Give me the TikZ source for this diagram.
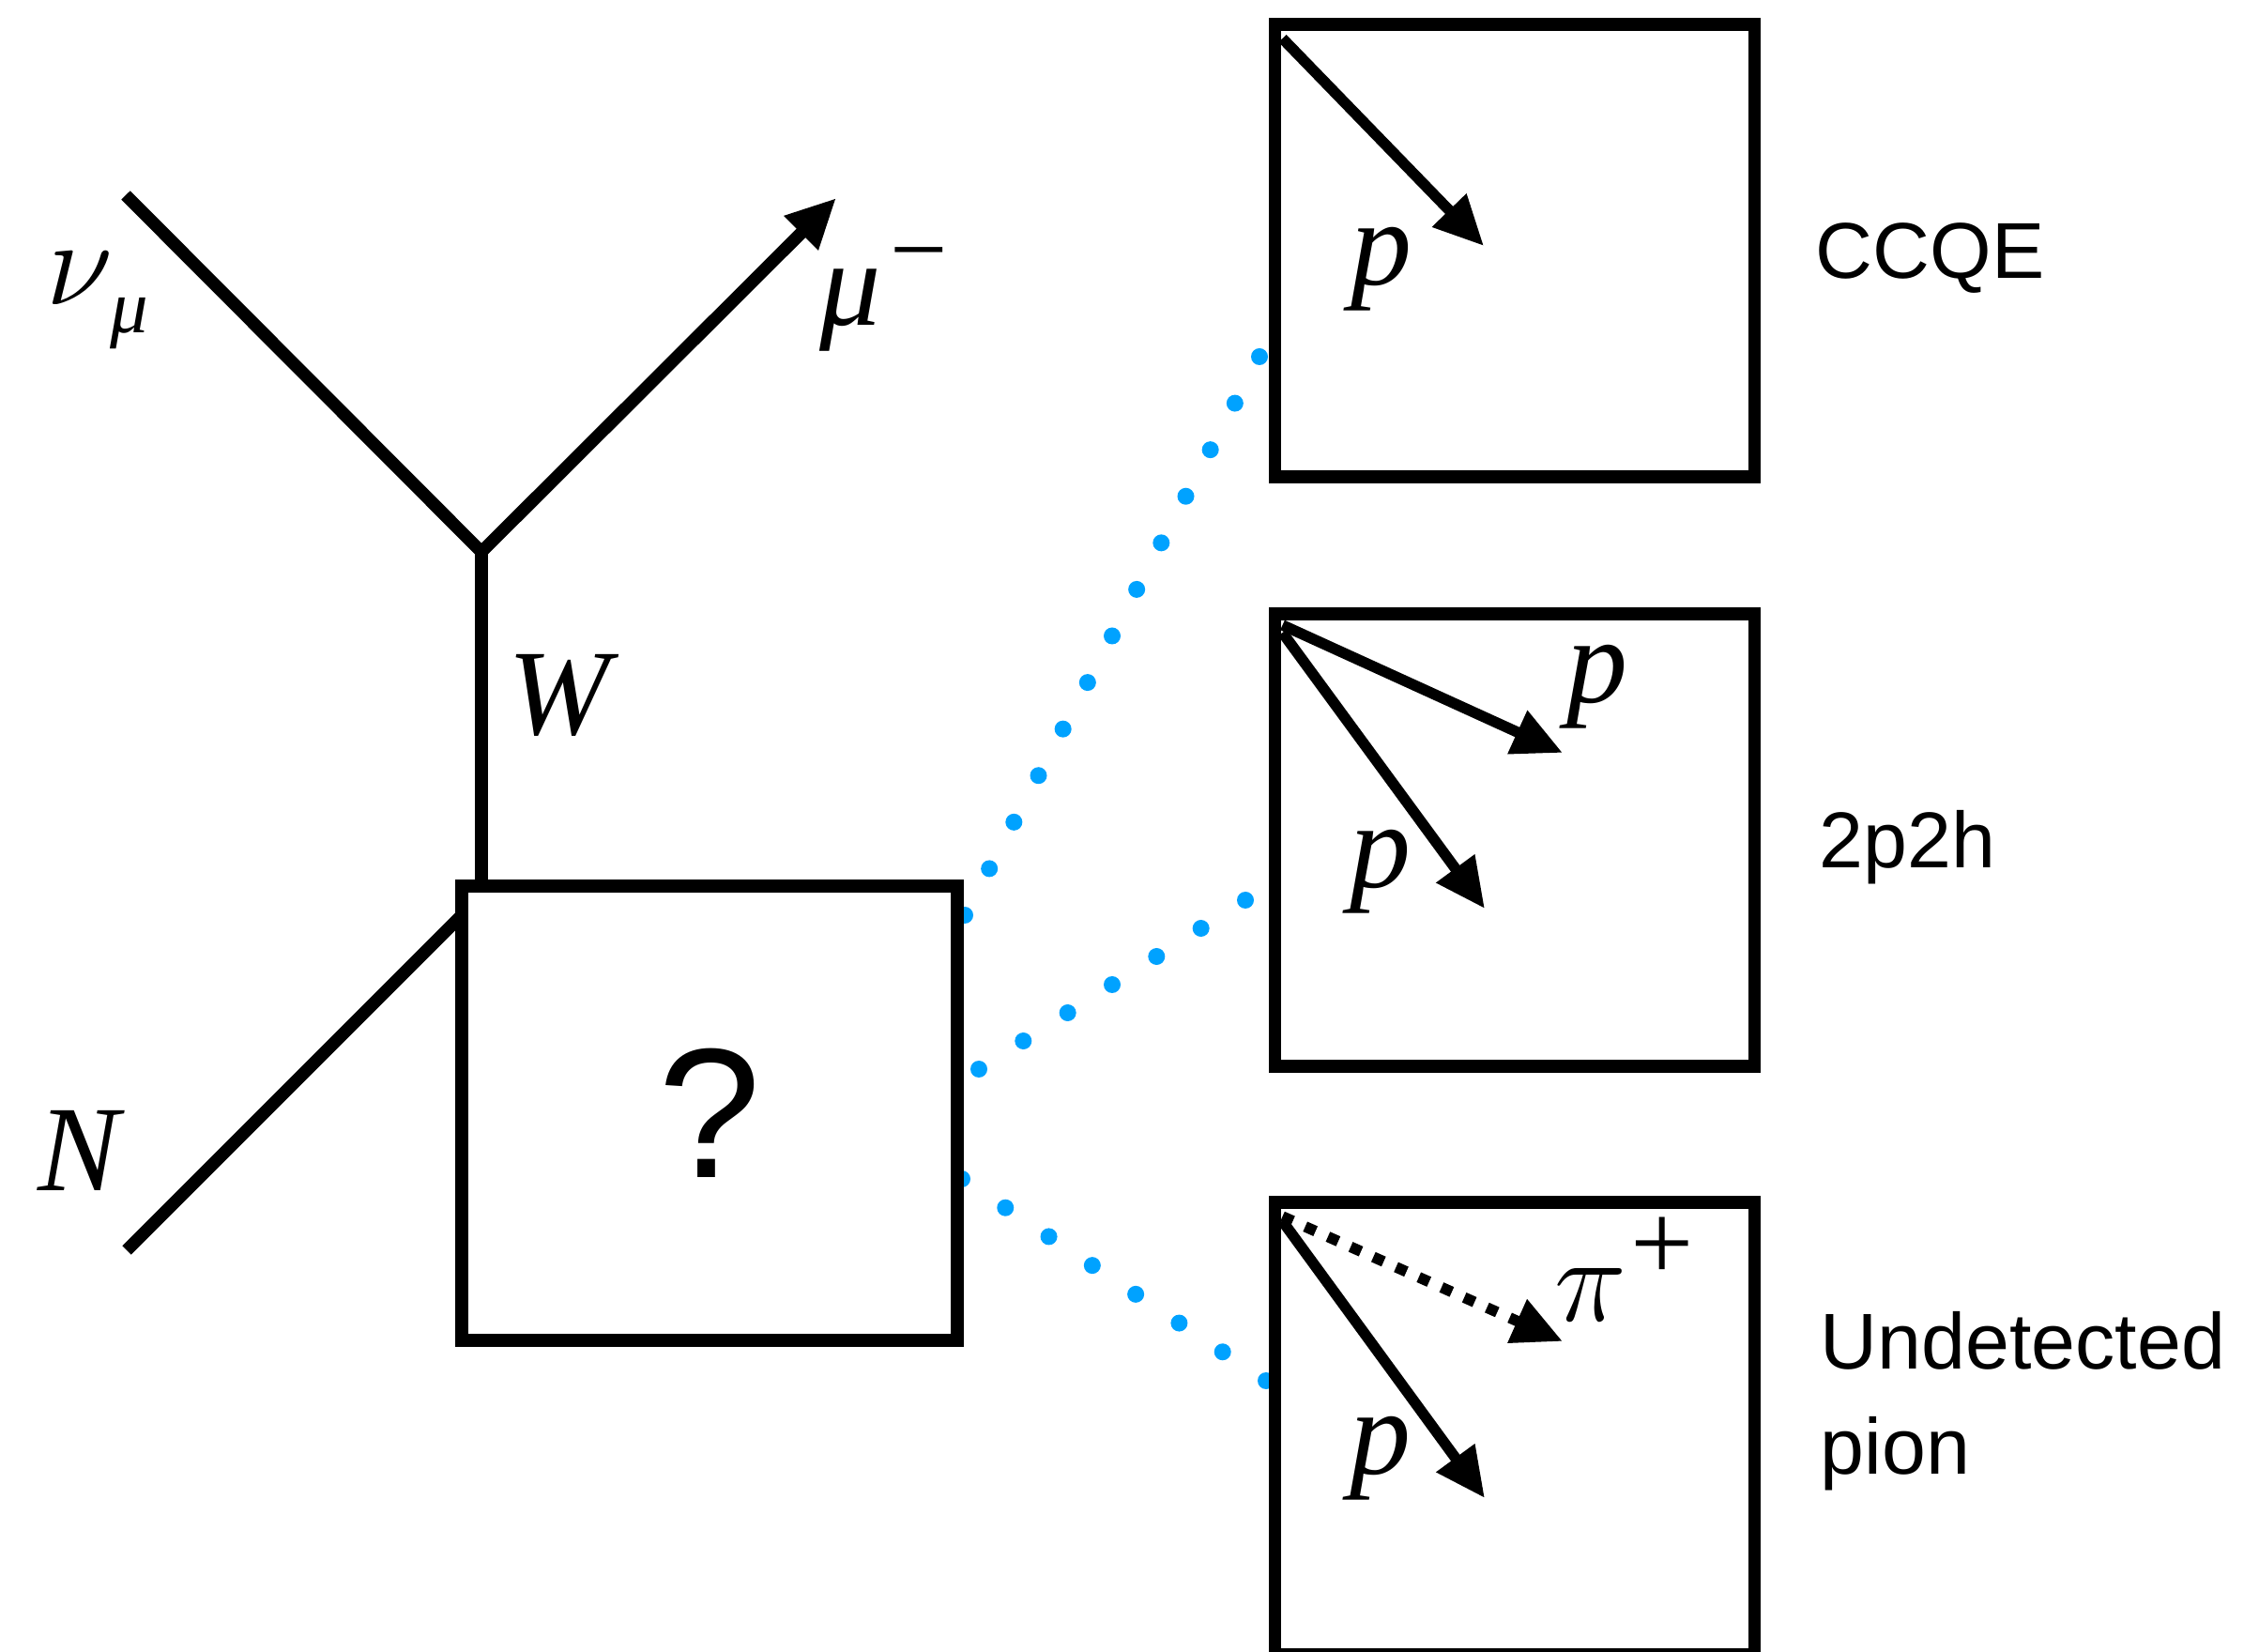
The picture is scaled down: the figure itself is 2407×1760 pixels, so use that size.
\RequirePackage{fix-cm}
\documentclass[tikz,border=0pt]{standalone}
\usepackage{fontspec}
\setmainfont{Liberation Serif}
\newfontfamily\sansf{Liberation Sans}
\usetikzlibrary{arrows.meta,calc,backgrounds}
\definecolor{dotblue}{RGB}{0,162,255}
\begin{document}
\begin{tikzpicture}[x=0.1mm,y=-0.1mm,
  line/.style={line width=1.33mm},
  inline/.style={line width=1.15mm},
  boxst/.style={draw, line width=1.37mm, fill=white, inner sep=0pt, outer sep=0pt},
  tip/.style={-{Triangle[length=5.3mm,width=4.8mm]}},
  mathlbl/.style={font=\fontsize{37pt}{37pt}\selectfont\itshape, inner sep=0pt, anchor=base},
  sanslbl/.style={font=\sansf\fontsize{24pt}{31.6pt}\selectfont, inner sep=0pt, anchor=base west, align=left},
  bluedot/.style={fill=dotblue},
]
\useasboundingbox (0,0) rectangle (2407,1760);
% boxes
\node[boxst, minimum width=52.8mm, minimum height=48.4mm, font=\sansf\fontsize{56pt}{56pt}\selectfont] (q) at (756,1186) {?};
\node[boxst, minimum width=51.1mm, minimum height=48.2mm] (b1) at (1614,267) {};
\node[boxst, minimum width=51.1mm, minimum height=48.2mm] (b2) at (1614,895) {};
\node[boxst, minimum width=51.1mm, minimum height=48.2mm] (b3) at (1614,1522) {};
% Feynman part
\coordinate (nu) at (134,208);
\coordinate (v) at (513,588);
\coordinate (mu) at (891,211);
\coordinate (nN) at (135,1332);
\coordinate (qN) at ($(q.north west)+(0,31)$);
% dotted connectors
\coordinate (d1a) at (1028,975); \coordinate (d1b) at (1342,380);
\coordinate (d2a) at (1043,1139); \coordinate (d2b) at (1327,959);
\coordinate (d3a) at (1025,1256); \coordinate (d3b) at (1349,1471);
\begin{scope}[on background layer]
  \draw[line] (nu) -- (v);
  \draw[line,tip] (v) -- (mu);
  \draw[line] (v) -- (v |- q.north);
  \draw[line] (nN) -- (qN);
  \foreach \i in {0,...,12} \fill[bluedot] ($(d1a)!\i/12!(d1b)$) circle (0.9mm);
  \foreach \i in {0,...,6} \fill[bluedot] ($(d2a)!\i/6!(d2b)$) circle (0.9mm);
  \foreach \i in {0,...,7} \fill[bluedot] ($(d3a)!\i/7!(d3b)$) circle (0.9mm);
\end{scope}
% arrows in boxes
\coordinate (s1) at ($(b1.north west)+(8,15)$);
\coordinate (t1) at (1581,262);
\coordinate (s2a) at ($(b2.north west)+(8,12)$);
\coordinate (t2a) at (1665,802);
\coordinate (s2b) at ($(b2.north west)+(8,20)$);
\coordinate (t2b) at (1582,968);
\coordinate (s3a) at ($(b3.north west)+(8,15)$);
\coordinate (t3a) at (1665,1429);
\coordinate (s3b) at ($(b3.north west)+(8,20)$);
\coordinate (t3b) at (1582,1596);
\draw[inline,tip] (s1) -- (t1);
\draw[inline,tip] (s2a) -- (t2a);
\draw[inline,tip] (s2b) -- (t2b);
\draw[inline,tip,dash pattern=on 1.2mm off 1.45mm] (s3a) -- (t3a);
\draw[inline,tip] (s3b) -- (t3b);
% math labels
\node[mathlbl] (lnu) at (104,325) {$\nu$\kern-0.02em\raisebox{-3mm}{\fontsize{23pt}{23pt}\selectfont μ}};
\node[mathlbl] (lmu) at (942,347) {μ\kern1mm\raisebox{4.4mm}{\upshape\fontsize{31pt}{31pt}\selectfont −}};
\node[mathlbl] (lW) at (596,783) {W};
\node[mathlbl] (lN) at (84,1268) {N};
\node[mathlbl] (lp1) at (1472,304) {p};
\node[mathlbl] (lp2a) at (1702,749) {p};
\node[mathlbl] (lp2b) at (1471,946) {p};
\node[mathlbl] (lpi) at (1731,1407) {$\pi$\kern0.4mm\raisebox{4.3mm}{\upshape\fontsize{34pt}{34pt}\selectfont +}};
\node[mathlbl] (lp3) at (1471,1570) {p};
% text labels
\node[sanslbl] (lccqe) at (1934,297) {CCQE};
\node[sanslbl] (l2p2h) at (1938,925) {2p2h};
\node[sanslbl] (lpion) at (1939,1570) {Undetected\\pion};
\end{tikzpicture}
\end{document}
